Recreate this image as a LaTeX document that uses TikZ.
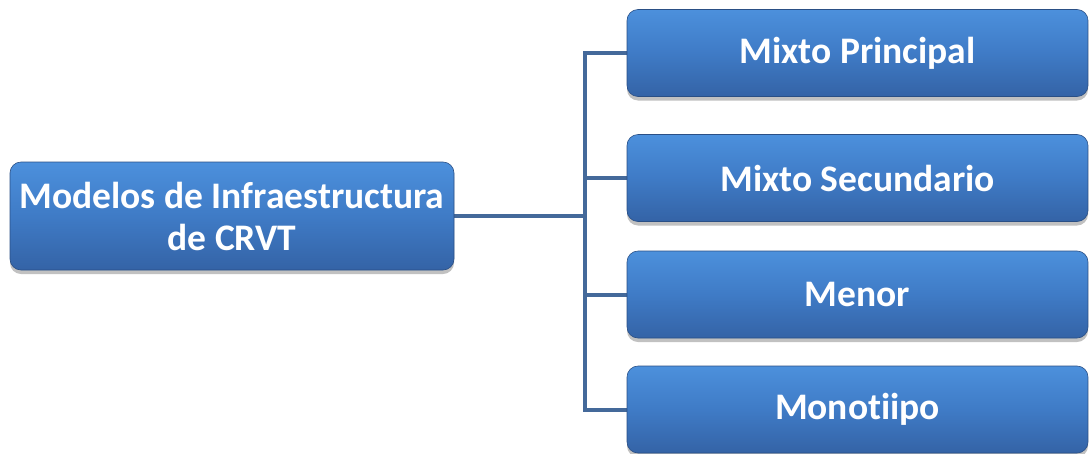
\documentclass[tikz,border=0pt]{standalone}
\usepackage{fontspec}
\setmainfont{Carlito}[Ligatures=NoCommon]
\usetikzlibrary{shadows,backgrounds}
\definecolor{boxtop}{HTML}{4C90DC}
\definecolor{boxmid}{HTML}{3F7BC6}
\definecolor{boxbot}{HTML}{3463A6}
\definecolor{linkblue}{HTML}{44699A}
\tikzset{
  item/.style={
    rounded corners=11pt, draw=boxbot!80!black, line width=0.6pt,
    top color=boxtop, bottom color=boxbot, middle color=boxmid,
    drop shadow={shadow xshift=0pt, shadow yshift=-4pt, opacity=0.35, fill=black!70},
    text=white, align=center, inner sep=0pt,
    font=\fontsize{37.5}{42}\selectfont\bfseries
  },
  child/.style={item, minimum width=461pt, minimum height=87pt},
  link/.style={draw=linkblue, line width=4pt}
}
\begin{document}
\begin{tikzpicture}[x=1pt,y=-1pt]
  \useasboundingbox (0,0) rectangle (1089,453);
  % root and the four variants
  \node[item, minimum width=444pt, minimum height=108pt] (root) at (232,216)
    {Modelos de Infraestructura\\de CRVT};
  \node[child] (c1) at (857.5,53) {Mixto Principal};
  \node[child] (c2) at (857.5,178) {Mixto Secundario};
  \node[child] (c3) at (857.5,294.5) {Menor};
  \node[child] (c4) at (857.5,409.5) {Monotiipo};
  % bracket connector behind the boxes
  \coordinate (trunk) at (585,216);
  \begin{scope}[on background layer]
    \draw[link] (root.east) -- (trunk);
    \draw[link] (c1.west) -- (c1.west -| trunk) -- (c4.west -| trunk) -- (c4.west);
    \draw[link] (c2.west) -- (c2.west -| trunk);
    \draw[link] (c3.west) -- (c3.west -| trunk);
  \end{scope}
\end{tikzpicture}
\end{document}
